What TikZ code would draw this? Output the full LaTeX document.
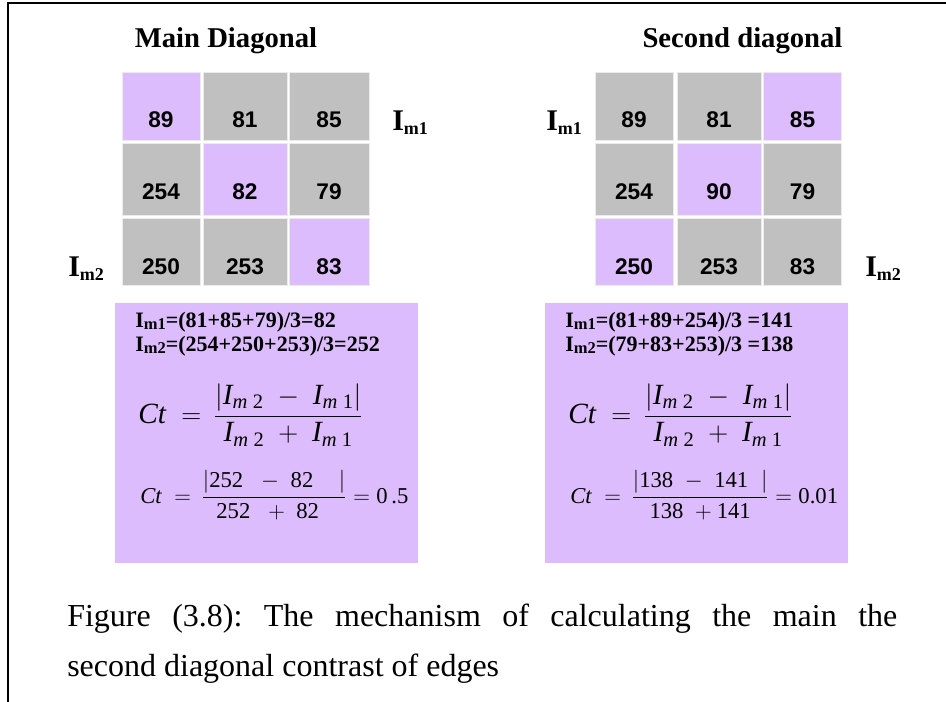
\documentclass[tikz,border=0pt]{standalone}
\usepackage{fontspec}
\setmainfont{Liberation Serif}
\newfontfamily\cellfont{Liberation Sans}
\usepackage{amsmath}
\usepackage{tikz}
\usetikzlibrary{positioning}
\definecolor{lilac}{RGB}{220,188,252}
\definecolor{silvergr}{RGB}{192,192,192}
\newcommand{\Isub}[1]{I\raisebox{-0.12em}{\scalebox{0.6}{m#1}}}
\newcommand{\Ismall}[1]{I\raisebox{-0.1em}{\scalebox{0.75}{m#1}}}
\newcommand{\vi}[1]{\text{\itshape #1}}
\newcommand{\vr}[1]{\text{\upshape #1}}
\tikzset{
  cell/.style  = {inner sep=0pt, draw=black!8, line width=0.4pt, anchor=south,
                  font=\cellfont\bfseries\fontsize{17pt}{17pt}\selectfont},
  gcell/.style = {cell, fill=silvergr},
  pcell/.style = {cell, fill=lilac},
  cola/.style  = {minimum width=58.5pt},
  colb/.style  = {minimum width=63pt},
  colc/.style  = {minimum width=60pt},
  rowa/.style  = {text height=41.25pt, text depth=9.75pt},
  rowb/.style  = {text height=42pt, text depth=12pt},
  rowc/.style  = {text height=42pt, text depth=8.25pt},
  ttl/.style   = {font=\bfseries\fontsize{21.5pt}{24pt}\selectfont,
                  inner sep=0pt, anchor=base},
  imlbl/.style = {font=\bfseries\fontsize{22.5pt}{24pt}\selectfont,
                  inner sep=0pt, anchor=base west},
  calcbox/.style = {fill=lilac, inner sep=0pt, anchor=north west,
                  minimum width=227.25pt, minimum height=195pt},
  sumln/.style = {font=\bfseries\fontsize{16.5pt}{18pt}\selectfont,
                  inner sep=0pt, anchor=base west},
  ctbig/.style = {font=\fontsize{22pt}{24pt}\selectfont,
                  inner sep=0pt, anchor=base west},
  ctsml/.style = {font=\fontsize{17pt}{18pt}\selectfont,
                  inner sep=0pt, anchor=base west},
}

\begin{document}
\begin{tikzpicture}[x=0.75pt, y=0.75pt]
\useasboundingbox (0,0) rectangle (946,-702);

% --- frame ---
\draw[line width=1.3pt] (8,-702) -- (8,-3) -- (946,-3);

% --- main diagonal ---
\node[ttl] (tmain) at (226,-48) {Main Diagonal};
\node[pcell, cola, rowa] (ma11) at (161,-141) {89};
\node[gcell, colb, rowa] (ma12) at (245,-141) {81};
\node[gcell, colc, rowa] (ma13) at (329,-141) {85};
\node[gcell, cola, rowb] (ma21) at (161,-216) {254};
\node[pcell, colb, rowb] (ma22) at (245,-216) {82};
\node[gcell, colc, rowb] (ma23) at (329,-216) {79};
\node[gcell, cola, rowc] (ma31) at (161,-286) {250};
\node[gcell, colb, rowc] (ma32) at (245,-286) {253};
\node[pcell, colc, rowc] (ma33) at (329,-286) {83};
\node[imlbl] (maim1) at (392,-131) {\Isub{1}};
\node[imlbl] (maim2) at (68,-277) {\Isub{2}};

% --- second diagonal ---
\node[ttl] (tsec) at (742.5,-48) {Second diagonal};
\node[gcell, cola, rowa] (sd11) at (634,-141) {89};
\node[gcell, colb, rowa] (sd12) at (719,-141) {81};
\node[pcell, cola, rowa] (sd13) at (802.5,-141) {85};
\node[gcell, cola, rowb] (sd21) at (634,-216) {254};
\node[pcell, colb, rowb] (sd22) at (719,-216) {90};
\node[gcell, cola, rowb] (sd23) at (802.5,-216) {79};
\node[pcell, cola, rowc] (sd31) at (634,-286) {250};
\node[gcell, colb, rowc] (sd32) at (719,-286) {253};
\node[gcell, cola, rowc] (sd33) at (802.5,-286) {83};
\node[imlbl] (sdim1) at (546,-131) {\Isub{1}};
\node[imlbl] (sdim2) at (865,-277) {\Isub{2}};

% --- calculation boxes ---
\node[calcbox] (calcm) at (115,-303) {};
\node[sumln] (summ1) at (135,-327) {\Ismall{1}=(81+85+79)/3=82};
\node[sumln] (summ2) at (135,-351) {\Ismall{2}=(254+250+253)/3=252};
\node[ctbig] (ctm) at (138,-423)
     {$\vi{Ct}\;=\,\dfrac{\left|\vi{I}_{\vi{m}\;\vr{2}}\;-\;\vi{I}_{\vi{m}\;\vr{1}}\right|}
      {\vi{I}_{\vi{m}\;\vr{2}}\;+\;\vi{I}_{\vi{m}\;\vr{1}}}$};
\node[ctsml] (valm) at (140,-503)
     {$\vi{Ct}\;=\,\dfrac{\left|\vr{252}\;\;-\;\vr{82}\;\;\;\;\right|}{\vr{252}\;\;+\;\vr{82}\;\;}=\vr{0\,.5}$};

\node[calcbox] (calcs) at (545,-303) {};
\node[sumln] (sums1) at (565,-327) {\Ismall{1}=(81+89+254)/3 =141};
\node[sumln] (sums2) at (565,-351) {\Ismall{2}=(79+83+253)/3 =138};
\node[ctbig] (cts) at (568,-423)
     {$\vi{Ct}\;=\,\dfrac{\left|\vi{I}_{\vi{m}\;\vr{2}}\;-\;\vi{I}_{\vi{m}\;\vr{1}}\right|}
      {\vi{I}_{\vi{m}\;\vr{2}}\;+\;\vi{I}_{\vi{m}\;\vr{1}}}$};
\node[ctsml] (vals) at (570,-503)
     {$\vi{Ct}\;=\,\dfrac{\left|\vr{138}\;-\;\vr{141}\;\;\right|}{\vr{138}\;+\vr{141}}=\vr{0.01}$};

% --- caption ---
\node[anchor=north west, inner sep=0pt, text width=622.5pt, align=justify,
      font=\frenchspacing\fontsize{24pt}{37.5pt}\selectfont] (cap) at (67,-604)
     {Figure (3.8): The mechanism of calculating the main the\linebreak
      second diagonal contrast of edges};
\end{tikzpicture}
\end{document}
